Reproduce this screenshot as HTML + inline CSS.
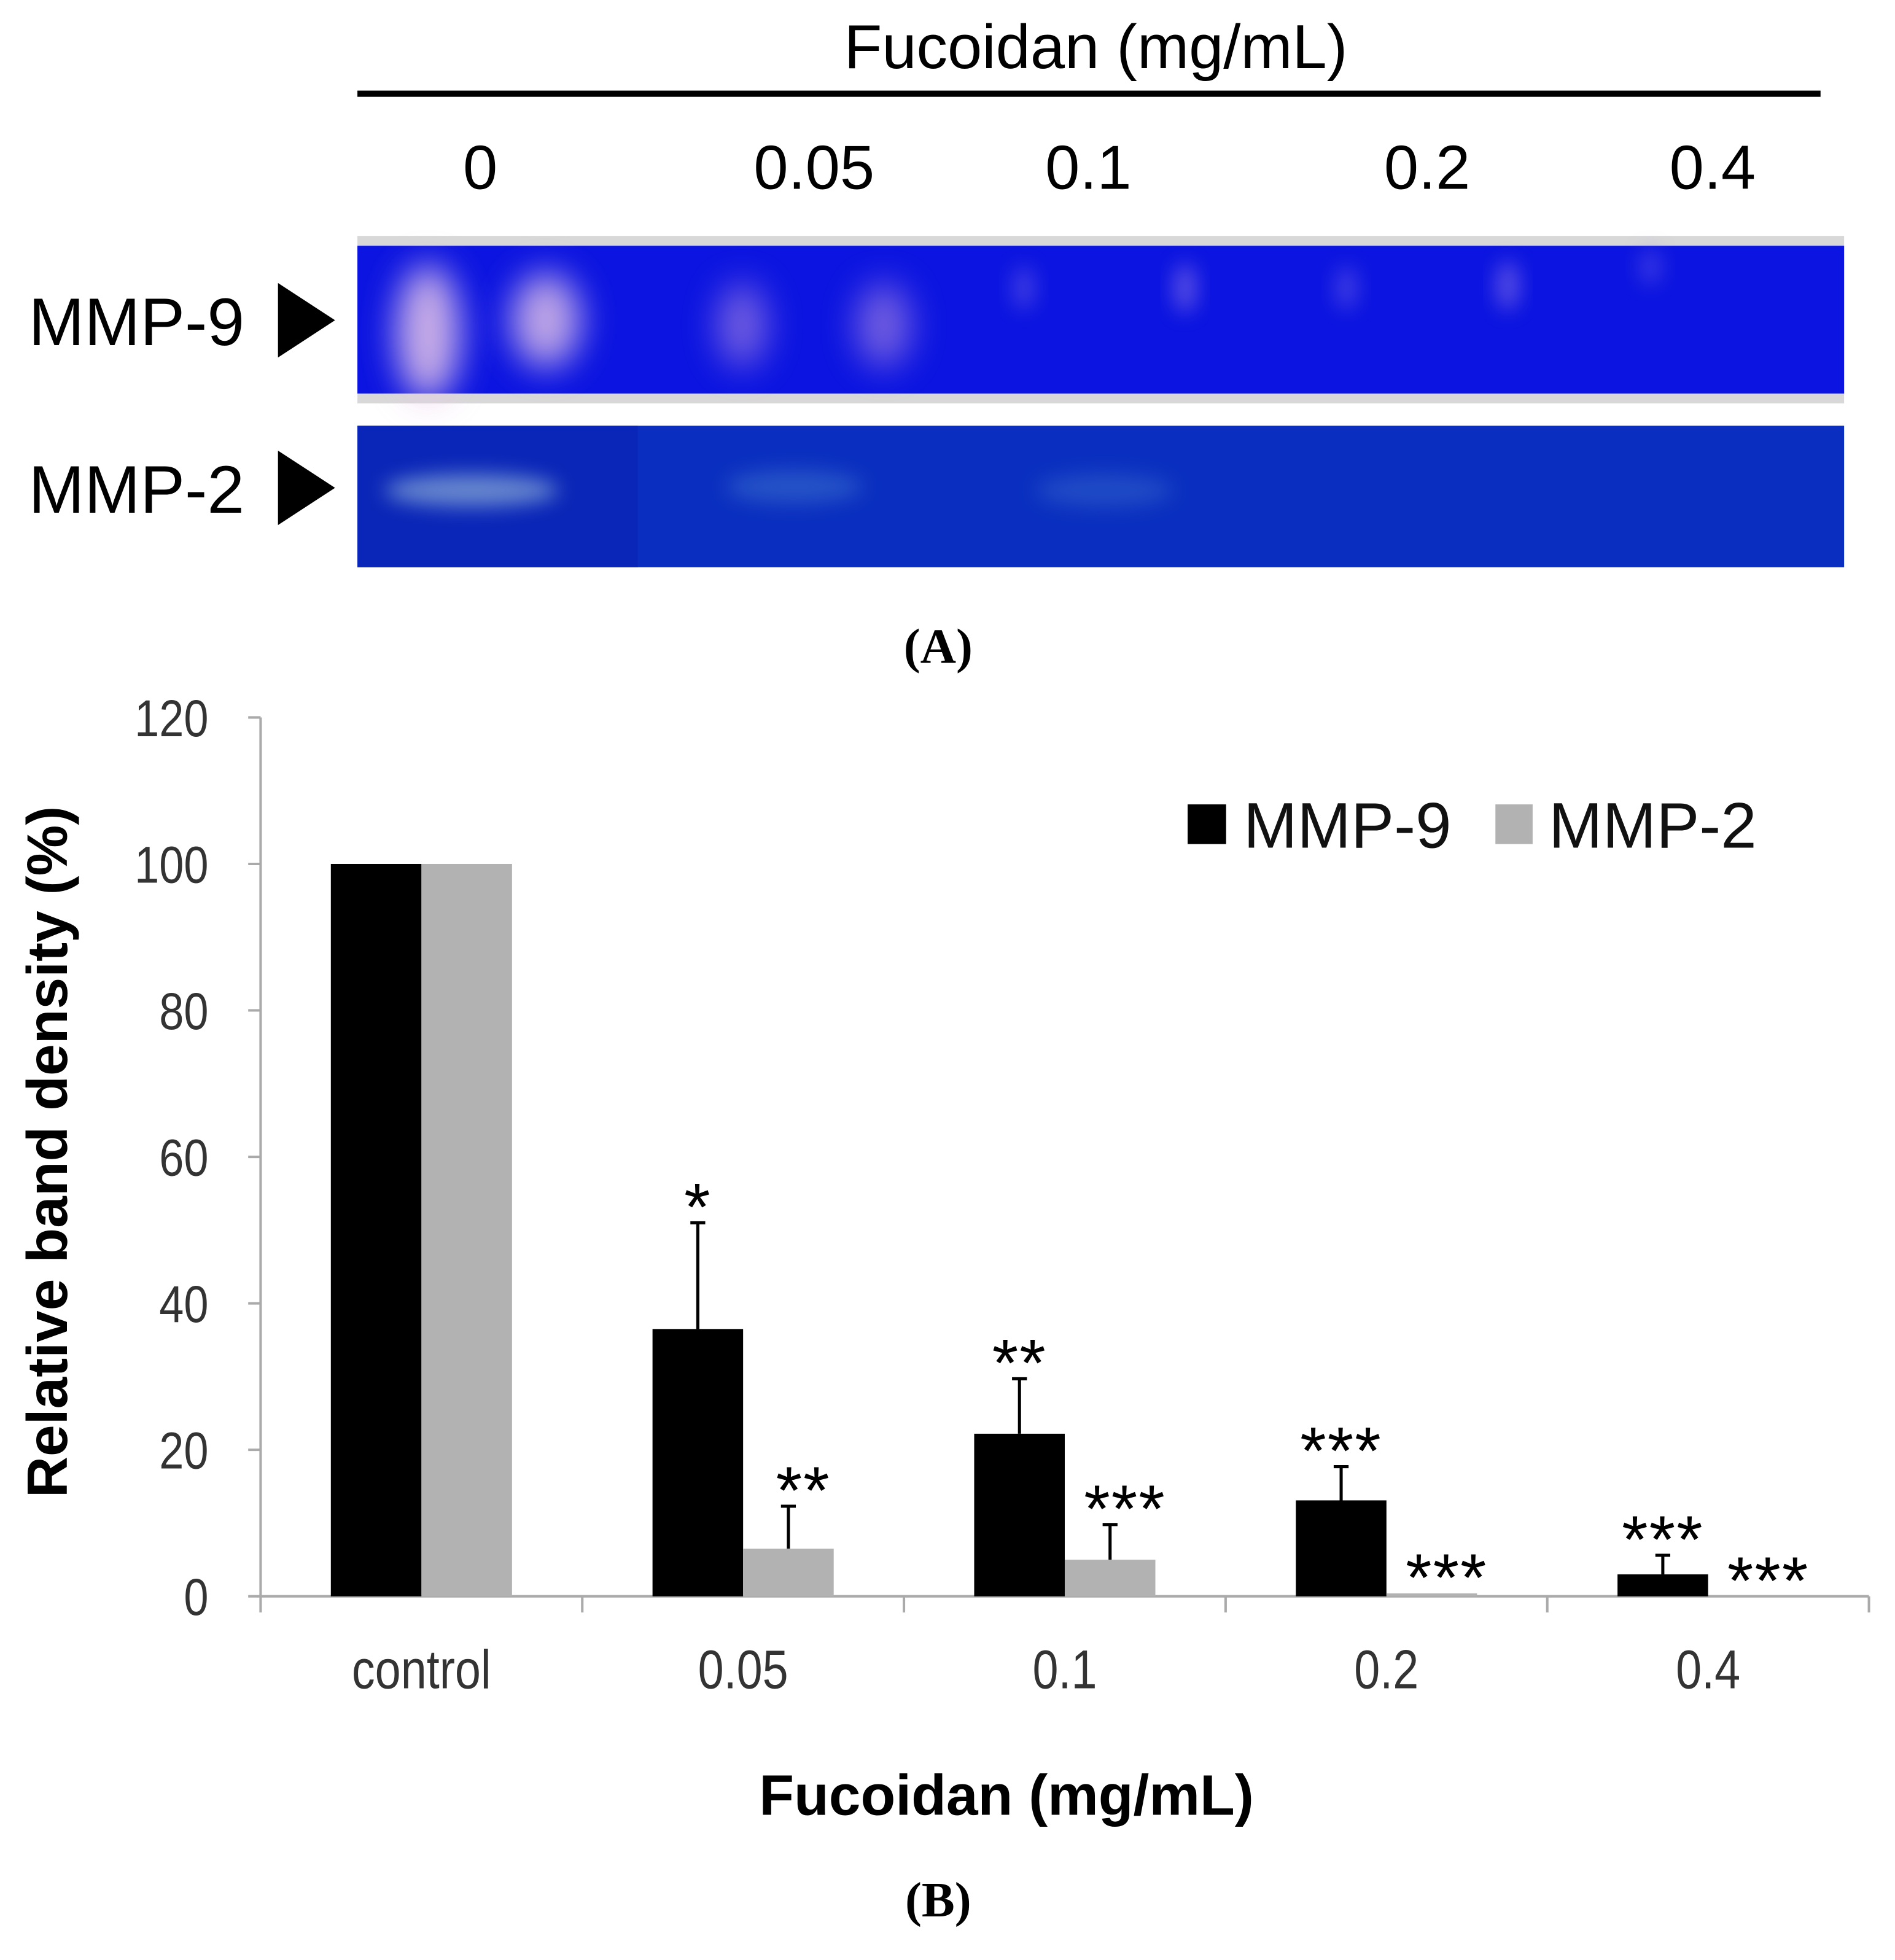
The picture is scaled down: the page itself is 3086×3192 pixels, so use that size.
<!DOCTYPE html>
<html><head><meta charset="utf-8"><style>
html,body{margin:0;padding:0;background:#fff}
svg{display:block}
text{font-family:"Liberation Sans",sans-serif}
</style></head><body>
<svg id="fig" width="3086" height="3192" viewBox="0 0 1527 1579" preserveAspectRatio="none" xmlns="http://www.w3.org/2000/svg">
<defs>
<filter id="blur" x="-80%" y="-80%" width="260%" height="260%"><feGaussianBlur stdDeviation="14"/></filter>
<filter id="blur2" x="-50%" y="-80%" width="200%" height="260%"><feGaussianBlur stdDeviation="8"/></filter>
</defs>
<!-- Panel A -->
<text x="883" y="55" font-size="50" text-anchor="middle">Fucoidan (mg/mL)</text>
<rect x="288" y="73" width="1179" height="5" fill="#000"/>
<g font-size="50" text-anchor="middle">
<text x="387" y="152">0</text><text x="656" y="152">0.05</text><text x="877" y="152">0.1</text><text x="1150" y="152">0.2</text><text x="1380" y="152">0.4</text>
</g>
<g>
<rect x="288" y="190" width="1198" height="135" fill="#d8d8d8"/>
<rect x="288" y="198" width="1198" height="119" fill="#0b14e0"/>
<ellipse cx="345" cy="268" rx="26" ry="55" fill="#e8c8e8" opacity="0.85" filter="url(#blur)"/>
<ellipse cx="440" cy="258" rx="28" ry="38" fill="#e8c8e8" opacity="0.8" filter="url(#blur)"/>
<ellipse cx="598" cy="262" rx="20" ry="34" fill="#b890e0" opacity="0.6" filter="url(#blur)"/>
<ellipse cx="712" cy="262" rx="22" ry="34" fill="#b890e0" opacity="0.6" filter="url(#blur)"/>
<ellipse cx="825" cy="232" rx="10" ry="18" fill="#8070e8" opacity="0.4" filter="url(#blur2)"/>
<ellipse cx="955" cy="232" rx="10" ry="20" fill="#9a80e8" opacity="0.5" filter="url(#blur2)"/>
<ellipse cx="1085" cy="232" rx="10" ry="18" fill="#8070e8" opacity="0.4" filter="url(#blur2)"/>
<ellipse cx="1215" cy="230" rx="10" ry="20" fill="#9a80e8" opacity="0.5" filter="url(#blur2)"/>
<ellipse cx="1330" cy="215" rx="10" ry="15" fill="#8070e8" opacity="0.35" filter="url(#blur2)"/>
</g>
<g>
<rect x="288" y="343" width="1198" height="114" fill="#0a2fc0"/>
<rect x="288" y="343" width="226" height="114" fill="#0a26b8"/>
<ellipse cx="380" cy="395" rx="70" ry="13" fill="#8fb0d8" opacity="0.7" filter="url(#blur2)"/>
<ellipse cx="640" cy="392" rx="55" ry="13" fill="#4a80d0" opacity="0.45" filter="url(#blur2)"/>
<ellipse cx="890" cy="395" rx="55" ry="13" fill="#4a80d0" opacity="0.35" filter="url(#blur2)"/>
</g>
<text x="110" y="278" font-size="54" text-anchor="middle">MMP-9</text>
<polygon points="224,228 270,258 224,288" fill="#000"/>
<text x="110" y="413" font-size="54" text-anchor="middle">MMP-2</text>
<polygon points="224,363 270,393 224,423" fill="#000"/>
<text x="756" y="534" font-size="40" font-weight="bold" text-anchor="middle" style="font-family:'Liberation Serif',serif">(A)</text>
<!-- Panel B -->
<g id="chart"></g>
<text x="756" y="1544" font-size="40" font-weight="bold" text-anchor="middle" style="font-family:'Liberation Serif',serif">(B)</text>
</svg>
<script>
const categories = ["control", "0.05", "0.1", "0.2", "0.4"];
const mmp9Values = [100, 36.5, 22.2, 13.1, 3.0];
const mmp9ErrTop = [100, 51, 29.7, 17.7, 5.6];
const mmp2Values = [100, 6.5, 5.0, 0.4, 0];
const mmp2ErrTop = [100, 12.3, 9.8, 0.4, 0];
const mmp9Stars = ["", "*", "**", "***", "***"];
const mmp2Stars = ["", "**", "***", "***", "***"];
const yTicks = [0, 20, 40, 60, 80, 100, 120];

const NS = "http://www.w3.org/2000/svg";
const g = document.getElementById("chart");
const X0 = 210, X1 = 1506, Y0 = 1286, Y1 = 578, YMAX = 120;
const groupW = (X1 - X0) / categories.length;
const barW = 73;
function y(v){ return Y0 - (v / YMAX) * (Y0 - Y1); }
function xc(i){ return X0 + groupW * (i + 0.5); }
function mk(tag, attrs, parent){
  const e = document.createElementNS(NS, tag);
  for (const k in attrs) e.setAttribute(k, attrs[k]);
  (parent || g).appendChild(e);
  return e;
}
let ax = mk("line", {x1:X0, y1:Y1, x2:X0, y2:Y0, stroke:"#aaa", "stroke-width":2});


let bx = mk("line", {x1:X0, y1:Y0, x2:X1, y2:Y0, stroke:"#aaa", "stroke-width":2});


yTicks.forEach(t => {
  const tk = mk("line", {x1:X0-10, y1:y(t), x2:X0, y2:y(t), stroke:"#aaa", "stroke-width":2});
  
  
  const tl = mk("text", {x:168, y:y(t)+15, "font-size":42, "text-anchor":"end", fill:"#333", transform:"translate(168,0) scale(0.85,1) translate(-168,0)"});
  tl.textContent = t;
  
  
});
for (let i = 0; i <= categories.length; i++) {
  const tx = X0 + groupW * i;
  const tk = mk("line", {x1:tx, y1:Y0, x2:tx, y2:Y0+13, stroke:"#aaa", "stroke-width":2});
  
  
}
categories.forEach((c, i) => {
  const cx = xc(i);
  const tl = mk("text", {x:cx, y:1360, "font-size":44, "text-anchor":"middle", fill:"#333", transform:`translate(${cx},0) scale(0.85,1) translate(${-cx},0)`});
  tl.textContent = c;
  
  
  [[mmp9Values, mmp9ErrTop, cx - barW/2], [mmp2Values, mmp2ErrTop, cx + barW/2]].forEach(([vals, errs, ex]) => {
    if (errs[i] > vals[i]) {
      const el = mk("line", {x1:ex, y1:y(errs[i]), x2:ex, y2:y(vals[i]), stroke:"#000", "stroke-width":2.5});
      
      
      const cap = mk("line", {x1:ex-6, y1:y(errs[i]), x2:ex+6, y2:y(errs[i]), stroke:"#000", "stroke-width":2.5});
      
      
    }
  });
  const b9 = mk("rect", {x:cx-barW, y:y(mmp9Values[i]), width:barW, height:Y0 - y(mmp9Values[i]), fill:"#000"});
  
  
  const b2 = mk("rect", {x:cx, y:y(mmp2Values[i]), width:barW, height:Y0 - y(mmp2Values[i]), fill:"#b2b2b2"});
  
  
  if (mmp9Stars[i]) {
    const s = mk("text", {x:cx - barW/2, y:y(Math.max(mmp9ErrTop[i], mmp9Values[i])) + 6, "font-size":54, "text-anchor":"middle", "letter-spacing":"1"});
    s.textContent = mmp9Stars[i];
    
    
  }
  if (mmp2Stars[i]) {
    const s = mk("text", {x:cx + barW/2 + 12, y:y(Math.max(mmp2ErrTop[i], mmp2Values[i])) + 6, "font-size":54, "text-anchor":"middle", "letter-spacing":"1"});
    s.textContent = mmp2Stars[i];
    
    
  }
});
const xt = mk("text", {x:811, y:1462, "font-size":46, "font-weight":"bold", "text-anchor":"middle"});
xt.textContent = "Fucoidan (mg/mL)";


const yt = mk("text", {x:0, y:0, "font-size":46, "font-weight":"bold", "text-anchor":"middle", transform:"translate(54,928) rotate(-90)"});
yt.textContent = "Relative band density (%)";


const l1 = mk("rect", {x:957, y:648, width:31, height:32, fill:"#000"});


const t1 = mk("text", {x:1002, y:683, "font-size":52, fill:"#111"});
t1.textContent = "MMP-9";


const l2 = mk("rect", {x:1205, y:648, width:30, height:32, fill:"#b2b2b2"});


const t2 = mk("text", {x:1248, y:683, "font-size":52, fill:"#111"});
t2.textContent = "MMP-2";


</script>
</body></html>
